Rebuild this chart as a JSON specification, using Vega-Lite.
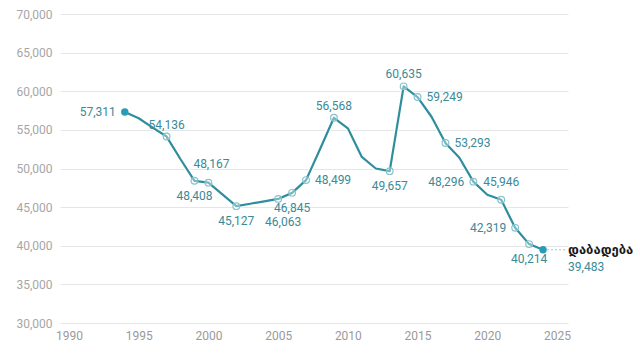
{
  "$schema": "https://vega.github.io/schema/vega-lite/v6.json",
  "width": 508,
  "height": 309,
  "autosize": "none",
  "padding": {"left": 60, "top": 14, "right": 72, "bottom": 33},
  "background": "white",
  "config": {
    "view": {"stroke": null},
    "font": "Roboto",
    "text": {"font": "Roboto", "fontSize": 12, "color": "#3a8a97"}
  },
  "data": {
    "values": [
      {"year": 1994, "births": 57311},
      {"year": 1995, "births": 56500},
      {"year": 1996, "births": 55300},
      {"year": 1997, "births": 54136},
      {"year": 1998, "births": 51200},
      {"year": 1999, "births": 48408},
      {"year": 2000, "births": 48167},
      {"year": 2001, "births": 46650},
      {"year": 2002, "births": 45127},
      {"year": 2003, "births": 45440},
      {"year": 2004, "births": 45750},
      {"year": 2005, "births": 46063},
      {"year": 2006, "births": 46845},
      {"year": 2007, "births": 48499},
      {"year": 2008, "births": 52500},
      {"year": 2009, "births": 56568},
      {"year": 2010, "births": 55200},
      {"year": 2011, "births": 51500},
      {"year": 2012, "births": 50000},
      {"year": 2013, "births": 49657},
      {"year": 2014, "births": 60635},
      {"year": 2015, "births": 59249},
      {"year": 2016, "births": 56700},
      {"year": 2017, "births": 53293},
      {"year": 2018, "births": 51400},
      {"year": 2019, "births": 48296},
      {"year": 2020, "births": 46600},
      {"year": 2021, "births": 45946},
      {"year": 2022, "births": 42319},
      {"year": 2023, "births": 40214},
      {"year": 2024, "births": 39483}
    ]
  },
  "encoding": {
    "x": {
      "field": "year",
      "type": "quantitative",
      "scale": {"domain": [1989.354, 2025.789], "nice": false, "zero": false},
      "axis": {
        "title": null,
        "values": [1990, 1995, 2000, 2005, 2010, 2015, 2020, 2025],
        "format": "d",
        "grid": false,
        "domain": false,
        "ticks": false,
        "tickSize": 0,
        "labelPadding": 7,
        "labelFont": "Roboto",
        "labelFontSize": 12,
        "labelColor": "#9a9a9a"
      }
    },
    "y": {
      "field": "births",
      "type": "quantitative",
      "scale": {"domain": [30000, 70000], "nice": false, "zero": false},
      "axis": {
        "title": null,
        "values": [30000, 35000, 40000, 45000, 50000, 55000, 60000, 65000, 70000],
        "format": ",.0f",
        "grid": true,
        "gridColor": "#e6e6e6",
        "gridWidth": 1,
        "domain": false,
        "ticks": false,
        "tickSize": 0,
        "labelPadding": 8,
        "labelFont": "Roboto",
        "labelFontSize": 12,
        "labelColor": "#a6a6a6"
      }
    }
  },
  "layer": [
    {
      "transform": [{"filter": "datum.year == 2024"}],
      "mark": {"type": "rule", "stroke": "#8fc9d3", "strokeWidth": 1.2, "strokeDash": [2, 2]},
      "encoding": {"x2": {"datum": 2025.6}}
    },
    {
      "mark": {"type": "line", "stroke": "#ffffff", "strokeWidth": 4.5, "strokeJoin": "round"},
      "encoding": {}
    },
    {
      "mark": {"type": "line", "stroke": "#2f8e9d", "strokeWidth": 2.2, "strokeJoin": "round"},
      "encoding": {}
    },
    {
      "transform": [{"filter": {"field": "year", "oneOf": [1997, 1999, 2000, 2002, 2005, 2006, 2007, 2009, 2013, 2014, 2015, 2017, 2019, 2021, 2022, 2023]}}],
      "mark": {"type": "point", "shape": "circle", "size": 45, "filled": false, "stroke": "#86c3cd", "strokeWidth": 1.2, "fill": "#ffffff", "fillOpacity": 0.35}
    },
    {
      "transform": [{"filter": {"field": "year", "oneOf": [1994, 2024]}}],
      "mark": {"type": "point", "shape": "circle", "size": 55, "filled": true, "color": "#2a9bb5", "opacity": 1}
    },
    {
      "transform": [{"filter": {"field": "year", "oneOf": [1994, 2019, 2022]}}],
      "mark": {"type": "text", "align": "right", "baseline": "middle", "dx": -9},
      "encoding": {"text": {"field": "births", "type": "quantitative", "format": ",.0f"}}
    },
    {
      "transform": [{"filter": {"field": "year", "oneOf": [2007, 2015, 2017]}}],
      "mark": {"type": "text", "align": "left", "baseline": "middle", "dx": 9},
      "encoding": {"text": {"field": "births", "type": "quantitative", "format": ",.0f"}}
    },
    {
      "transform": [{"filter": {"field": "year", "oneOf": [1997, 2009, 2014]}}],
      "mark": {"type": "text", "align": "center", "baseline": "middle", "dy": -12},
      "encoding": {"text": {"field": "births", "type": "quantitative", "format": ",.0f"}}
    },
    {
      "transform": [{"filter": {"field": "year", "oneOf": [2000]}}],
      "mark": {"type": "text", "align": "center", "baseline": "middle", "dx": 3, "dy": -19},
      "encoding": {"text": {"field": "births", "type": "quantitative", "format": ",.0f"}}
    },
    {
      "transform": [{"filter": {"field": "year", "oneOf": [2021]}}],
      "mark": {"type": "text", "align": "center", "baseline": "middle", "dy": -18},
      "encoding": {"text": {"field": "births", "type": "quantitative", "format": ",.0f"}}
    },
    {
      "transform": [{"filter": {"field": "year", "oneOf": [1999, 2002, 2006, 2013, 2023]}}],
      "mark": {"type": "text", "align": "center", "baseline": "middle", "dy": 15},
      "encoding": {"text": {"field": "births", "type": "quantitative", "format": ",.0f"}}
    },
    {
      "transform": [{"filter": {"field": "year", "oneOf": [2005]}}],
      "mark": {"type": "text", "align": "center", "baseline": "middle", "dx": 5, "dy": 23},
      "encoding": {"text": {"field": "births", "type": "quantitative", "format": ",.0f"}}
    },
    {
      "transform": [{"filter": "datum.year == 2024"}],
      "mark": {"type": "text", "align": "left", "baseline": "middle", "dx": 25, "dy": 0, "font": "DejaVu Sans", "fontWeight": "bold", "fontSize": 13, "color": "#1a1a1a", "text": "დაბადება"}
    },
    {
      "transform": [{"filter": "datum.year == 2024"}],
      "mark": {"type": "text", "align": "left", "baseline": "middle", "dx": 25, "dy": 17},
      "encoding": {"text": {"field": "births", "type": "quantitative", "format": ",.0f"}}
    }
  ]
}
